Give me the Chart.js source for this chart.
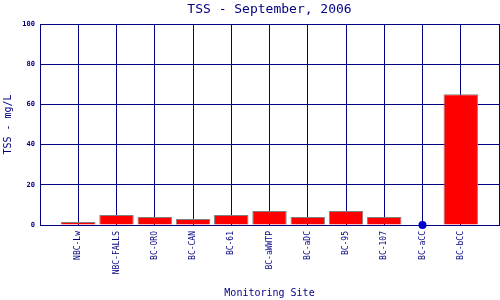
<!DOCTYPE html>
<html>
<head>
<meta charset="utf-8">
<script src="https://cdn.jsdelivr.net/npm/chart.js@4/dist/chart.umd.min.js"></script>
<style>
html,body{margin:0;padding:0;background:#fff;}
#wrap{width:500px;height:300px;position:relative;}
</style>
</head>
<body>
<div id="wrap"><canvas id="c" width="500" height="300"></canvas></div>
<script>
const categories = ['NBC-Lw','NBC-FALLS','BC-ORO','BC-CAN','BC-61','BC-aWWTP','BC-aDC','BC-95','BC-107','BC-aCC','BC-bCC'];
const tssValues = [1.5, 5, 4, 3, 5, 7, 4, 7, 4, null, 65];
const zeroPoints = [null, null, null, null, null, null, null, null, null, 0, null];
const yTicks = [0, 20, 40, 60, 80, 100];

const labels = [''].concat(categories, ['']);
const barData = [null].concat(tssValues, [null]);
const dotData = [null].concat(zeroPoints, [null]);

const navy = '#000080';
const mono = "'DejaVu Sans Mono', 'Liberation Mono', monospace";

new Chart(document.getElementById('c'), {
  data: {
    labels: labels,
    datasets: [
      { type: 'line', data: dotData, showLine: false, pointRadius: 4, pointBackgroundColor: '#0000cc', pointBorderColor: '#0000cc', pointBorderWidth: 0, clip: false, order: 0 },
      { type: 'bar', data: barData, backgroundColor: '#ff0000', borderColor: '#808080', borderWidth: 1, barPercentage: 0.9, categoryPercentage: 1, order: 1 }
    ]
  },
  options: {
    responsive: false,
    animation: false,
    layout: { autoPadding: false, padding: { left: 0, right: 1, top: 0, bottom: 0 } },
    plugins: {
      legend: { display: false },
      tooltip: { enabled: false },
      title: { display: true, text: 'TSS - September, 2006', color: navy, fullSize: false, font: { family: mono, size: 13, weight: 'normal', lineHeight: 1.2 }, padding: { top: 1.5, bottom: 6.9 } }
    },
    scales: {
      x: {
        type: 'category', offset: false,
        grid: { color: navy, lineWidth: 1, drawTicks: false, offset: false },
        border: { color: navy, width: 1 },
        ticks: { color: navy, autoSkip: false, maxRotation: 90, minRotation: 90, padding: 6, font: { family: mono, size: 8 } },
        title: { display: true, text: 'Monitoring Site', color: navy, font: { family: mono, size: 10 }, padding: { top: 0, bottom: 1 } },
        afterFit: (s) => { s.height = 75; s.paddingLeft = 0; s.paddingRight = 0; }
      },
      y: {
        type: 'linear', min: 0, max: 100,
        afterBuildTicks: (s) => { s.ticks = yTicks.map(v => ({ value: v })); },
        grid: { color: navy, lineWidth: 1, drawTicks: false },
        border: { color: navy, width: 1 },
        ticks: { color: navy, padding: 5, font: { family: mono, size: 7, weight: 'bold' } },
        title: { display: true, text: 'TSS - mg/L', color: navy, font: { family: mono, size: 10 }, padding: { top: 2, bottom: 4 } },
        afterFit: (s) => { s.width = 40; s.paddingTop = 0; s.paddingBottom = 0; }
      }
    }
  }
});
</script>
</body>
</html>
